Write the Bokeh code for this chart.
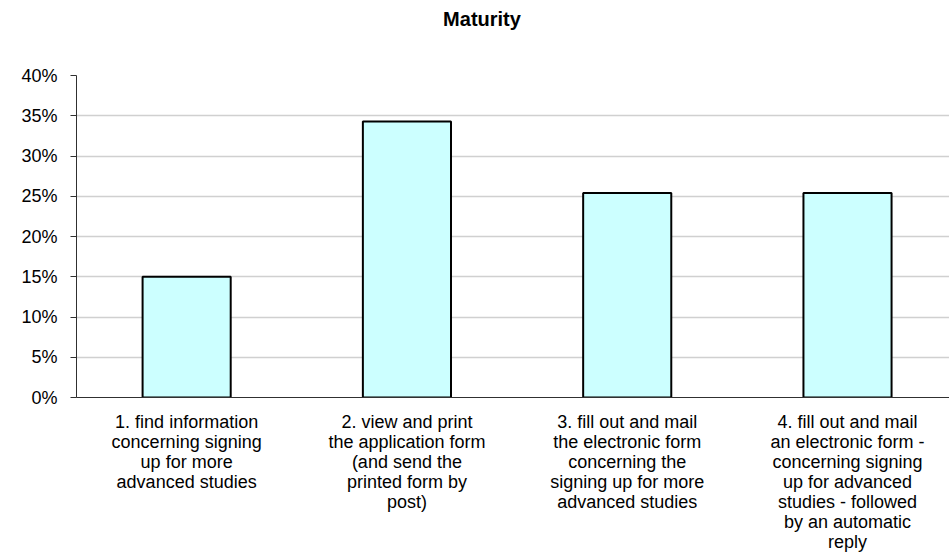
from bokeh.plotting import figure
from bokeh.models import Range1d, FixedTicker, NumeralTickFormatter, ColumnDataSource, Div
from bokeh.layouts import column
from bokeh.embed import file_html
from bokeh.resources import INLINE

categories = [
    "1. find information\nconcerning signing\nup for more\nadvanced studies",
    "2. view and print\nthe application form\n(and send the\nprinted form by\npost)",
    "3. fill out and mail\nthe electronic form\nconcerning the\nsigning up for more\nadvanced studies",
    "4. fill out and mail\nan electronic form -\nconcerning signing\nup for advanced\nstudies - followed\nby an automatic\nreply",
]
values = [0.150, 0.343, 0.254, 0.254]
y_ticks = [0.0, 0.05, 0.10, 0.15, 0.20, 0.25, 0.30, 0.35, 0.40]
title_text = "Maturity"

positions = [i + 0.5 for i in range(len(categories))]
FONT = "Liberation Sans"

title_div = Div(text=title_text, width=949, height=38, margin=(0, 0, 0, 0),
                styles={"font-family": FONT, "font-size": "20px", "font-weight": "bold",
                        "color": "black", "line-height": "38px", "text-align": "center",
                        "padding-left": "15px", "box-sizing": "border-box"})

p = figure(width=949, height=521, output_backend="svg", toolbar_location=None,
           x_range=Range1d(0, 3.963), y_range=Range1d(0, 0.40), title=None, margin=(0, 0, 0, 0),
           min_border_left=76, min_border_right=0, min_border_top=37, min_border_bottom=162)
p.outline_line_color = None

src = ColumnDataSource(dict(x=positions, top=values))
p.vbar(x="x", top="top", width=0.4, bottom=0, source=src,
       fill_color="#CCFFFF", line_color="black", line_width=2)

p.xgrid.grid_line_color = None
p.ygrid.grid_line_color = "#D0D0D0"
p.ygrid.grid_line_width = 1.5
p.ygrid.ticker = FixedTicker(ticks=y_ticks)

p.yaxis.ticker = FixedTicker(ticks=y_ticks)
p.yaxis.formatter = NumeralTickFormatter(format="0%")
p.yaxis.major_tick_out = 6
p.yaxis.major_tick_in = 0
p.yaxis.minor_tick_line_color = None
p.yaxis.axis_line_color = "#303030"
p.yaxis.major_tick_line_color = "#303030"
p.yaxis.major_label_text_font = FONT
p.yaxis.major_label_text_font_size = "18px"
p.yaxis.major_label_text_color = "black"
p.yaxis.major_label_standoff = 13

p.xaxis.ticker = FixedTicker(ticks=positions)
p.xaxis.major_label_overrides = {pos: lab for pos, lab in zip(positions, categories)}
p.xaxis.major_tick_out = 0
p.xaxis.major_tick_in = 0
p.xaxis.minor_tick_line_color = None
p.xaxis.axis_line_color = "#303030"
p.xaxis.major_label_text_font = FONT
p.xaxis.major_label_text_font_size = "18px"
p.xaxis.major_label_text_color = "black"
p.xaxis.major_label_text_line_height = 1.0
p.xaxis.major_label_standoff = 14

layout = column(title_div, p, spacing=0)
open("out.html", "w").write(file_html(layout, INLINE))
